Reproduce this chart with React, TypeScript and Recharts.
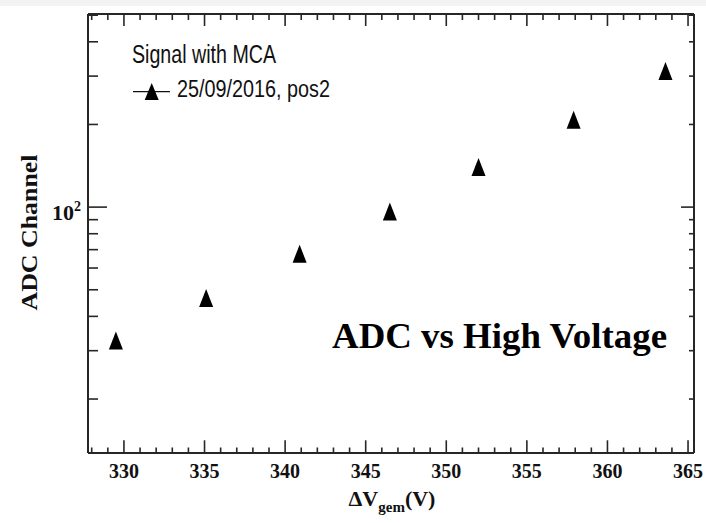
import { ScatterChart, Scatter, XAxis, YAxis, Customized } from "recharts";

// gain scan
const voltage = [329.5, 335.1, 340.9, 346.5, 352.0, 357.9, 363.6];
const adcChannel = [32.7, 46.7, 67.7, 96.4, 140, 208, 313];

const xMajor = [330, 335, 340, 345, 350, 355, 360, 365];
const xTicks = Array.from({ length: 38 }, (_, i) => 328 + i);
const yMajor = [100];
const yTicks = [20, 30, 40, 50, 60, 70, 80, 90, 100, 200, 300, 400, 500];

const X_DOMAIN = [327.77, 365.37];
const Y_DOMAIN = [12.72, 505];

const data = voltage.map((v, i) => ({ v, adc: adcChannel[i] }));

const FRAME = "#262626";
const SERIF = "'Liberation Serif', 'Times New Roman', serif";
const SANS = "'Liberation Sans', Arial, sans-serif";

const Triangle = (props: any) => {
  const { cx, cy } = props;
  if (cx == null || cy == null) return null;
  return <polygon points={`${cx},${cy - 9} ${cx - 7},${cy + 9} ${cx + 7},${cy + 9}`} fill="#000" />;
};

const Nothing = () => <g />;

const BottomTick = (props: any) => {
  const { x, y, payload } = props;
  const major = xMajor.includes(payload.value);
  return (
    <g>
      <line x1={x} y1={y} x2={x} y2={y - (major ? 12.7 : 5.5)} stroke={FRAME} strokeWidth={1.6} />
      {major && (
        <text x={x} y={y + 25} textAnchor="middle" fontFamily={SERIF} fontWeight="bold" fontSize={22}
          textLength={30} lengthAdjust="spacingAndGlyphs" fill="#111">
          {payload.value}
        </text>
      )}
    </g>
  );
};

const TopTick = (props: any) => {
  const { x, y, payload } = props;
  const major = xMajor.includes(payload.value);
  return <line x1={x} y1={y} x2={x} y2={y + (major ? 12 : 6)} stroke={FRAME} strokeWidth={1.6} />;
};

const LeftTick = (props: any) => {
  const { x, y, payload } = props;
  const major = yMajor.includes(payload.value);
  return (
    <g>
      <line x1={x} y1={y} x2={x + (major ? 19 : 10)} y2={y} stroke={FRAME} strokeWidth={1.6} />
      {major && (
        <text x={x - 7} y={y + 13} textAnchor="end" fontFamily={SERIF} fontWeight="bold" fill="#111">
          <tspan fontSize={22}>10</tspan>
          <tspan fontSize={14} dy={-9}>2</tspan>
        </text>
      )}
    </g>
  );
};

const RightTick = (props: any) => {
  const { x, y, payload } = props;
  const major = yMajor.includes(payload.value);
  return <line x1={x} y1={y} x2={x - (major ? 13 : 5)} y2={y} stroke={FRAME} strokeWidth={1.6} />;
};

const Overlay = () => (
  <g>
    <rect x={0} y={0} width={706} height={6} fill="#f3f3f3" />
    <text x={132} y={63.3} fontFamily={SANS} fontSize={25} textLength={144} lengthAdjust="spacingAndGlyphs" fill="#111">
      Signal with MCA
    </text>
    <line x1={133} y1={91.7} x2={170} y2={91.7} stroke="#111" strokeWidth={1.2} />
    <polygon points="151.7,83 144.7,100 158.7,100" fill="#000" />
    <text x={177} y={97} fontFamily={SANS} fontSize={23} textLength={153} lengthAdjust="spacingAndGlyphs" fill="#111">
      25/09/2016, pos2
    </text>
    <text x={332} y={348.3} fontFamily={SERIF} fontWeight="bold" fontSize={36} textLength={335}
      lengthAdjust="spacingAndGlyphs" fill="#000">
      ADC vs High Voltage
    </text>
    <text x={36.5} y={232.5} transform="rotate(-90, 36.5, 232.5)" textAnchor="middle" fontFamily={SERIF}
      fontWeight="bold" fontSize={23} textLength={156} lengthAdjust="spacingAndGlyphs" fill="#111">
      ADC Channel
    </text>
    <text x={392} y={506} textAnchor="middle" fontFamily={SERIF} fontWeight="bold" fill="#111">
      <tspan fontSize={22}>ΔV</tspan>
      <tspan fontSize={15} dy={6}>gem</tspan>
      <tspan fontSize={22} dy={-6}>(V)</tspan>
    </text>
  </g>
);

export default function App() {
  return (
    <div style={{ position: "absolute", left: 0, top: 0, background: "#fff" }}>
      <ScatterChart width={706} height={523} data={data} margin={{ top: 13, right: 11, bottom: 0, left: 0 }}>
        <XAxis
          dataKey="v"
          type="number"
          domain={X_DOMAIN}
          allowDataOverflow
          ticks={xTicks}
          interval={0}
          height={70}
          tickSize={0}
          tickMargin={0}
          tickLine={false}
          tick={<BottomTick />}
          axisLine={{ stroke: FRAME, strokeWidth: 2 }}
        />
        <XAxis
          xAxisId="top"
          dataKey="v"
          orientation="top"
          type="number"
          domain={X_DOMAIN}
          allowDataOverflow
          ticks={xTicks}
          interval={0}
          height={1}
          tickSize={0}
          tickMargin={0}
          tickLine={false}
          tick={<TopTick />}
          axisLine={{ stroke: FRAME, strokeWidth: 2 }}
        />
        <YAxis
          dataKey="adc"
          type="number"
          scale="log"
          domain={Y_DOMAIN}
          allowDataOverflow
          ticks={yTicks}
          interval={0}
          width={88}
          tickSize={0}
          tickMargin={0}
          tickLine={false}
          tick={<LeftTick />}
          axisLine={{ stroke: FRAME, strokeWidth: 2 }}
        />
        <YAxis
          yAxisId="right"
          dataKey="adc"
          orientation="right"
          type="number"
          scale="log"
          domain={Y_DOMAIN}
          allowDataOverflow
          ticks={yTicks}
          interval={0}
          width={1}
          tickSize={0}
          tickMargin={0}
          tickLine={false}
          tick={<RightTick />}
          axisLine={{ stroke: FRAME, strokeWidth: 2 }}
        />
        <Scatter data={data} dataKey="adc" shape={<Triangle />} isAnimationActive={false} />
        {/* invisible copy so the mirrored top/right axes get a scale */}
        <Scatter data={data} dataKey="adc" xAxisId="top" yAxisId="right" shape={<Nothing />}
          legendType="none" isAnimationActive={false} />
        <Customized component={<Overlay />} />
      </ScatterChart>
    </div>
  );
}
